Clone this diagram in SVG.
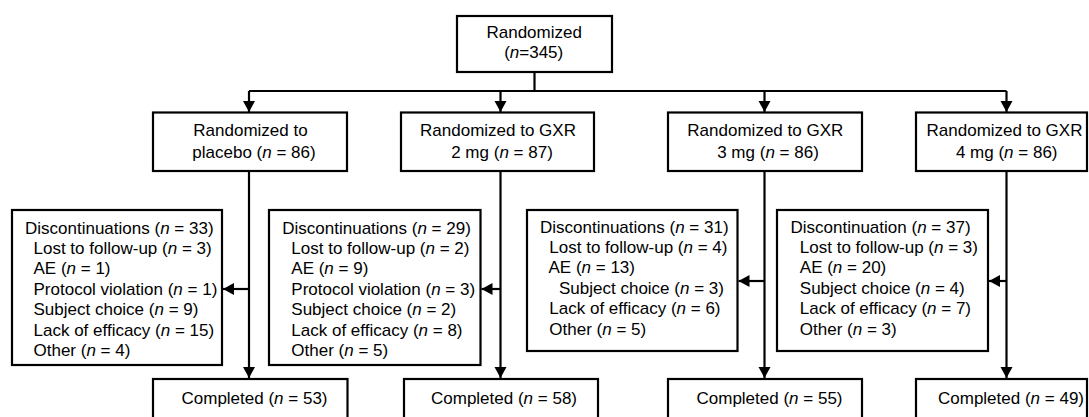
<svg xmlns="http://www.w3.org/2000/svg" width="1089" height="417" viewBox="0 0 1089 417">
<style>
  .box { fill: #ffffff; stroke: #000000; stroke-width: 2.2; }
  .ln { fill: none; stroke: #000000; stroke-width: 2.2; }
  text { font-family: "Liberation Sans", Arial, sans-serif; font-size: 17px; fill: #000000; }
  .c { text-anchor: middle; }
  .i { font-style: italic; }
</style>
<defs>
  <marker id="arr" markerUnits="userSpaceOnUse" markerWidth="13" markerHeight="13" refX="11" refY="6" orient="auto">
    <path d="M0,0 L11,6 L0,12 z" fill="#000000"/>
  </marker>
</defs>
<rect width="1089" height="417" fill="#ffffff"/>

<g id="connectors">
  <path class="ln" d="M534.5,72 V91"/>
  <path class="ln" d="M249,91 H1006.5"/>
  <path class="ln" d="M249,91 V112" marker-end="url(#arr)"/>
  <path class="ln" d="M500.5,91 V112" marker-end="url(#arr)"/>
  <path class="ln" d="M764.5,91 V112" marker-end="url(#arr)"/>
  <path class="ln" d="M1006.5,91 V112" marker-end="url(#arr)"/>
  <path class="ln" d="M249,171 V378" marker-end="url(#arr)"/>
  <path class="ln" d="M500.5,171 V378" marker-end="url(#arr)"/>
  <path class="ln" d="M764.5,171 V378" marker-end="url(#arr)"/>
  <path class="ln" d="M1006.5,171 V378" marker-end="url(#arr)"/>
  <path class="ln" d="M249,289 H223" marker-end="url(#arr)"/>
  <path class="ln" d="M500.5,289 H481.5" marker-end="url(#arr)"/>
  <path class="ln" d="M764.5,281 H738.5" marker-end="url(#arr)"/>
  <path class="ln" d="M1006.5,281 H989" marker-end="url(#arr)"/>
</g>

<g id="randomized">
  <rect class="box" x="457" y="16" width="155" height="56"/>
  <text class="c" x="534.2" y="38.3">Randomized</text>
  <text class="c" x="533.7" y="58.3">(<tspan class="i">n</tspan>=345)</text>
</g>

<g id="placebo">
  <rect class="box" x="153" y="112.5" width="194" height="58.5"/>
  <text class="c" x="250.5" y="136">Randomized to</text>
  <text class="c" x="254" y="158.3">placebo (<tspan class="i">n</tspan> = 86)</text>
</g>
<g id="gxr2">
  <rect class="box" x="401" y="112.5" width="193" height="58.5"/>
  <text class="c" x="498" y="136">Randomized to GXR</text>
  <text class="c" x="502" y="158.3">2 mg (<tspan class="i">n</tspan> = 87)</text>
</g>
<g id="gxr3">
  <rect class="box" x="668" y="112.5" width="194" height="58.5"/>
  <text class="c" x="765.3" y="136">Randomized to GXR</text>
  <text class="c" x="768" y="158.3">3 mg (<tspan class="i">n</tspan> = 86)</text>
</g>
<g id="gxr4">
  <rect class="box" x="916" y="112.5" width="171" height="58.5"/>
  <text class="c" x="1004.5" y="136">Randomized to GXR</text>
  <text class="c" x="1006.7" y="158.3">4 mg (<tspan class="i">n</tspan> = 86)</text>
</g>

<g id="disc-placebo">
  <rect class="box" x="12" y="210" width="210" height="155"/>
  <text x="25" y="233.5">Discontinuations (<tspan class="i">n</tspan> = 33)</text>
  <text x="33.5" y="253.9">Lost to follow-up (<tspan class="i">n</tspan> = 3)</text>
  <text x="33.5" y="274.3">AE (<tspan class="i">n</tspan> = 1)</text>
  <text x="33.5" y="294.7">Protocol violation (<tspan class="i">n</tspan> = 1)</text>
  <text x="33.5" y="315.1">Subject choice (<tspan class="i">n</tspan> = 9)</text>
  <text x="33.5" y="335.5">Lack of efficacy (<tspan class="i">n</tspan> = 15)</text>
  <text x="33.5" y="355.9">Other (<tspan class="i">n</tspan> = 4)</text>
</g>
<g id="disc-gxr2">
  <rect class="box" x="269" y="210" width="211.5" height="155"/>
  <text x="282.3" y="233.5">Discontinuations (<tspan class="i">n</tspan> = 29)</text>
  <text x="291.3" y="253.9">Lost to follow-up (<tspan class="i">n</tspan> = 2)</text>
  <text x="291.3" y="274.3">AE (<tspan class="i">n</tspan> = 9)</text>
  <text x="291.3" y="294.7">Protocol violation (<tspan class="i">n</tspan> = 3)</text>
  <text x="291.3" y="315.1">Subject choice (<tspan class="i">n</tspan> = 2)</text>
  <text x="291.3" y="335.5">Lack of efficacy (<tspan class="i">n</tspan> = 8)</text>
  <text x="291.3" y="355.9">Other (<tspan class="i">n</tspan> = 5)</text>
</g>
<g id="disc-gxr3">
  <rect class="box" x="527" y="210" width="210.5" height="141"/>
  <text x="540" y="232.5">Discontinuations (<tspan class="i">n</tspan> = 31)</text>
  <text x="549.3" y="252.9">Lost to follow-up (<tspan class="i">n</tspan> = 4)</text>
  <text x="548.5" y="273.3">AE (<tspan class="i">n</tspan> = 13)</text>
  <text x="559" y="293.7">Subject choice (<tspan class="i">n</tspan> = 3)</text>
  <text x="549.3" y="314.1">Lack of efficacy (<tspan class="i">n</tspan> = 6)</text>
  <text x="549.3" y="334.5">Other (<tspan class="i">n</tspan> = 5)</text>
</g>
<g id="disc-gxr4">
  <rect class="box" x="777" y="210" width="211" height="141"/>
  <text x="790.5" y="232.5">Discontinuation (<tspan class="i">n</tspan> = 37)</text>
  <text x="799.8" y="252.9">Lost to follow-up (<tspan class="i">n</tspan> = 3)</text>
  <text x="799.8" y="273.3">AE (<tspan class="i">n</tspan> = 20)</text>
  <text x="799.8" y="293.7">Subject choice (<tspan class="i">n</tspan> = 4)</text>
  <text x="799.8" y="314.1">Lack of efficacy (<tspan class="i">n</tspan> = 7)</text>
  <text x="799.8" y="334.5">Other (<tspan class="i">n</tspan> = 3)</text>
</g>

<g id="completed-placebo">
  <rect class="box" x="153" y="379" width="194.5" height="50"/>
  <text class="c" x="254.5" y="404">Completed (<tspan class="i">n</tspan> = 53)</text>
</g>
<g id="completed-gxr2">
  <rect class="box" x="404" y="379" width="194" height="50"/>
  <text class="c" x="504" y="404">Completed (<tspan class="i">n</tspan> = 58)</text>
</g>
<g id="completed-gxr3">
  <rect class="box" x="668" y="379" width="194" height="50"/>
  <text class="c" x="769.5" y="404">Completed (<tspan class="i">n</tspan> = 55)</text>
</g>
<g id="completed-gxr4">
  <rect class="box" x="916" y="379" width="171" height="50"/>
  <text class="c" x="1011" y="404">Completed (<tspan class="i">n</tspan> = 49)</text>
</g>
</svg>
